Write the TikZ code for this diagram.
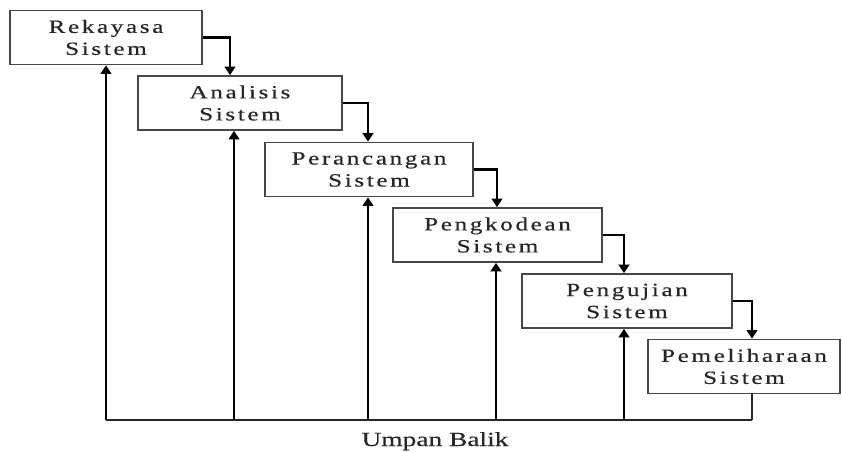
\documentclass[tikz,border=0pt]{standalone}
\usepackage{fontspec}
\usetikzlibrary{arrows.meta}
\newfontfamily\boxfont[FakeStretch=1.35,LetterSpace=14,FakeBold=0.4]{Liberation Serif}
\newfontfamily\labfont[FakeStretch=1.37,FakeBold=0.3]{Liberation Serif}
\definecolor{ink}{HTML}{262626}
\tikzset{
  box/.style={draw=ink!85, line width=1.2pt, fill=white, minimum height=40.5pt,
    align=center, inner sep=0pt, text=ink,
    font=\boxfont\fontsize{14}{16.5}\selectfont},
  conn/.style={draw=black, line width=1.7pt, -{Triangle[width=8pt,length=6.5pt]}},
  fline/.style={draw=ink, line width=1.2pt},
}
\begin{document}
\begin{tikzpicture}[x=0.75pt,y=-0.75pt]
\useasboundingbox (0,0) rectangle (842,452);
\node[box, minimum width=144pt]   (b1) at (106,37.5) {Rekayasa\\Sistem};
\node[box, minimum width=153pt]   (b2) at (240,103) {Analisis\\Sistem};
\node[box, minimum width=156pt]   (b3) at (369,169.5) {Perancangan\\Sistem};
\node[box, minimum width=156.75pt](b4) at (497.5,235) {Pengkodean\\Sistem};
\node[box, minimum width=157.5pt] (b5) at (627,301) {Pengujian\\Sistem};
\node[box, minimum width=144pt]   (b6) at (744,366.5) {Pemeliharaan\\Sistem};
% down connectors
\coordinate (d2) at (230,0);
\coordinate (d3) at (368,0);
\coordinate (d4) at (497,0);
\coordinate (d5) at (624,0);
\coordinate (d6) at (752,0);
\draw[conn] (b1.east) -| (b2.north -| d2);
\draw[conn] (b2.east) -| (b3.north -| d3);
\draw[conn] (b3.east) -| (b4.north -| d4);
\draw[conn] (b4.east) -| (b5.north -| d5);
\draw[conn] (b5.east) -| (b6.north -| d6);
% feedback
\coordinate (f1) at (106,420);
\coordinate (f2) at (234,420);
\coordinate (f3) at (368,420);
\coordinate (f4) at (496,420);
\coordinate (f5) at (624,420);
\coordinate (f6) at (752,420);
\draw[fline] (f1) -- (f6);
\draw[fline] (b6.south -| f6) -- (f6);
\draw[conn] (f1) -- (b1.south -| f1);
\draw[conn] (f2) -- (b2.south -| f2);
\draw[conn] (f3) -- (b3.south -| f3);
\draw[conn] (f4) -- (b4.south -| f4);
\draw[conn] (f5) -- (b5.south -| f5);
\node[anchor=base, text=ink, font=\labfont\fontsize{15}{17}\selectfont, inner sep=0pt] (fb) at (435,446) {Umpan Balik};
\end{tikzpicture}
\end{document}
